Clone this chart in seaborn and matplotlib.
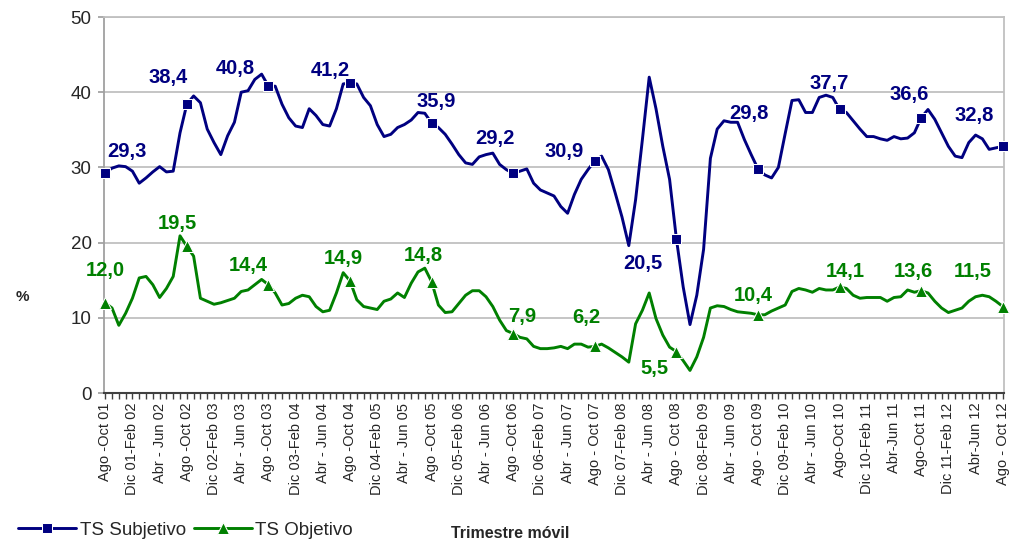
import matplotlib
matplotlib.use("Agg")
import matplotlib.pyplot as plt
import pandas as pd
import seaborn as sns

# Trimestre movil labels (one every 4 months)
tick_labels = [
    "Ago -Oct 01", "Dic 01-Feb 02", "Abr - Jun 02", "Ago -Oct 02", "Dic 02-Feb 03",
    "Abr - Jun 03", "Ago -Oct 03", "Dic 03-Feb 04", "Abr - Jun 04", "Ago -Oct 04",
    "Dic 04-Feb 05", "Abr - Jun 05", "Ago -Oct 05", "Dic 05-Feb 06", "Abr - Jun 06",
    "Ago -Oct 06", "Dic 06-Feb 07", "Abr - Jun 07", "Ago - Oct 07", "Dic 07-Feb 08",
    "Abr - Jun 08", "Ago - Oct 08", "Dic 08-Feb 09", "Abr - Jun 09", "Ago - Oct 09",
    "Dic 09-Feb 10", "Abr - Jun 10", "Ago-Oct 10", "Dic 10-Feb 11", "Abr-Jun 11",
    "Ago-Oct 11", "Dic 11-Feb 12", "Abr-Jun 12", "Ago - Oct 12",
]

# monthly values, Ago-Oct 01 .. Ago-Oct 12
subjetivo = [
    29.3, 29.9, 30.2, 30.1, 29.5, 27.9, 28.6, 29.4, 30.1, 29.4, 29.5, 34.6,
    38.4, 39.5, 38.6, 35.1, 33.3, 31.7, 34.2, 36.0, 40.0, 40.2, 41.7, 42.4,
    40.8, 40.8, 38.4, 36.6, 35.5, 35.3, 37.8, 36.9, 35.7, 35.5, 37.8, 41.1,
    41.2, 41.1, 39.3, 38.2, 35.7, 34.1, 34.4, 35.3, 35.7, 36.3, 37.3, 37.2,
    35.9, 35.3, 34.4, 33.1, 31.7, 30.6, 30.4, 31.4, 31.7, 31.9, 30.4, 29.7,
    29.2, 29.5, 29.8, 27.9, 27.0, 26.6, 26.2, 24.8, 23.9, 26.4, 28.4, 29.7,
    30.9, 31.5, 29.7, 26.6, 23.4, 19.6, 25.7, 33.7, 42.0, 37.8, 32.8, 28.4,
    20.5, 14.1, 9.1, 13.0, 19.1, 31.2, 35.1, 36.2, 36.0, 36.0, 33.7, 31.7,
    29.8, 29.0, 28.6, 30.0, 34.5, 38.9, 39.0, 37.3, 37.3, 39.3, 39.6, 39.3,
    37.7, 37.3, 36.2, 35.1, 34.1, 34.1, 33.8, 33.6, 34.1, 33.8, 33.9, 34.6,
    36.6, 37.7, 36.4, 34.6, 32.8, 31.5, 31.3, 33.3, 34.3, 33.8, 32.4, 32.6,
    32.8,
]
objetivo = [
    12.0, 11.3, 9.0, 10.6, 12.6, 15.3, 15.5, 14.4, 12.7, 13.9, 15.5, 20.9,
    19.5, 18.2, 12.6, 12.2, 11.8, 12.0, 12.3, 12.6, 13.5, 13.7, 14.4, 15.1,
    14.4, 13.3, 11.7, 11.9, 12.6, 13.0, 12.8, 11.5, 10.8, 11.0, 13.3, 16.0,
    14.9, 12.4, 11.5, 11.3, 11.1, 12.2, 12.5, 13.3, 12.7, 14.6, 16.1, 16.6,
    14.8, 11.7, 10.7, 10.8, 11.9, 13.0, 13.6, 13.6, 12.8, 11.5, 9.7, 8.3,
    7.9, 7.4, 7.2, 6.2, 5.9, 5.9, 6.0, 6.2, 5.9, 6.5, 6.5, 6.1,
    6.2, 6.5, 6.0, 5.4, 4.8, 4.1, 9.2, 11.0, 13.3, 9.9, 7.7, 6.1,
    5.5, 4.3, 3.0, 4.8, 7.4, 11.3, 11.6, 11.5, 11.1, 10.8, 10.7, 10.6,
    10.4, 10.4, 10.9, 11.3, 11.7, 13.5, 13.9, 13.7, 13.4, 13.9, 13.7, 13.7,
    14.1, 13.9, 13.0, 12.6, 12.7, 12.7, 12.7, 12.2, 12.7, 12.8, 13.7, 13.4,
    13.6, 13.3, 12.2, 11.3, 10.7, 11.0, 11.3, 12.2, 12.8, 13.0, 12.8, 12.2,
    11.5,
]

# label offsets in pixels from each Ago-Oct point
off_subj = [(22, 21), (-19, 27), (-33, 18), (-20, 13), (5, 22), (-18, 35),
            (-31, 9), (-34, -25), (-9, 55), (-10, 26), (-12, 23), (-29, 31)]
off_obj = [(0, 32), (-9, 23), (-20, 19), (-7, 22), (-8, 26), (9, 17),
           (-8, 29), (-22, -17), (-5, 19), (6, 15), (-8, 19), (-30, 35)]

navy = "#000080"
green = "#008000"

sns.set_theme(style="white")
plt.rcParams["font.family"] = ["Liberation Sans", "DejaVu Sans"]

df = pd.DataFrame({"mes": range(len(subjetivo)),
                   "TS Subjetivo": subjetivo,
                   "TS Objetivo": objetivo})

fig = plt.figure(figsize=(10.1, 5.45), dpi=100)
ax = fig.add_axes([104 / 1010, 1 - 393 / 545, 900 / 1010, 376 / 545])

sns.lineplot(data=df, x="mes", y="TS Subjetivo", ax=ax, color=navy, lw=2.1,
             marker="s", markersize=7, markevery=12, label="TS Subjetivo",
             clip_on=False, zorder=4, solid_joinstyle="round")
sns.lineplot(data=df, x="mes", y="TS Objetivo", ax=ax, color=green, lw=2.1,
             marker="^", markersize=8, markevery=12, label="TS Objetivo",
             clip_on=False, zorder=4, solid_joinstyle="round")

# data labels at Ago-Oct of each year
for k, i in enumerate(range(0, len(subjetivo), 12)):
    for vals, offs, col in [(subjetivo, off_subj, navy), (objetivo, off_obj, green)]:
        v = vals[i]
        ax.annotate(f"{v:.1f}".replace(".", ","), (i, v), xytext=offs[k],
                    textcoords="offset pixels", ha="center", va="center",
                    color=col, fontsize=14.5, fontweight="bold",
                    annotation_clip=False, zorder=5)

ax.set_xlim(-0.18, len(subjetivo) - 1 + 0.18)
ax.set_ylim(0, 50)
ax.set_yticks(range(0, 51, 10))
ax.set_xticks(range(0, len(subjetivo), 4))
ax.set_xticklabels(tick_labels, rotation=90, fontsize=10.5)
ax.set_xticks(range(len(subjetivo)), minor=True)
ax.tick_params(axis="y", labelsize=13.5, left=True, length=4, color="#a0a0a0", pad=5)
ax.tick_params(axis="x", which="both", bottom=True, length=4, width=1,
               color="#404040", pad=3)
ax.set_xlabel("")
ax.set_ylabel("")
ax.grid(True, axis="y", color="#c0c0c0", lw=1.3)
ax.grid(False, axis="x")
ax.set_axisbelow(True)
for side, col, lw in [("left", "#a0a0a0", 1.3), ("bottom", "#404040", 1.5),
                      ("right", "#c0c0c0", 1.3), ("top", "#c0c0c0", 1.3)]:
    ax.spines[side].set_visible(True)
    ax.spines[side].set_color(col)
    ax.spines[side].set_linewidth(lw)

handles, labels = ax.get_legend_handles_labels()
ax.get_legend().remove()
fig.legend(handles, labels, loc="center left", bbox_to_anchor=(18 / 1010, 1 - 530 / 545),
           ncol=2, frameon=False, fontsize=13.5, handlelength=3.1,
           handletextpad=0.2, columnspacing=0.4, borderpad=0, borderaxespad=0)

fig.text(510 / 1010, 1 - 533 / 545, "Trimestre móvil", ha="center", va="center",
         fontsize=11.5, fontweight="bold")
fig.text(22 / 1010, 1 - 297 / 545, "%", ha="center", va="center",
         fontsize=11, fontweight="bold")

fig.savefig("out.png", dpi=100)
